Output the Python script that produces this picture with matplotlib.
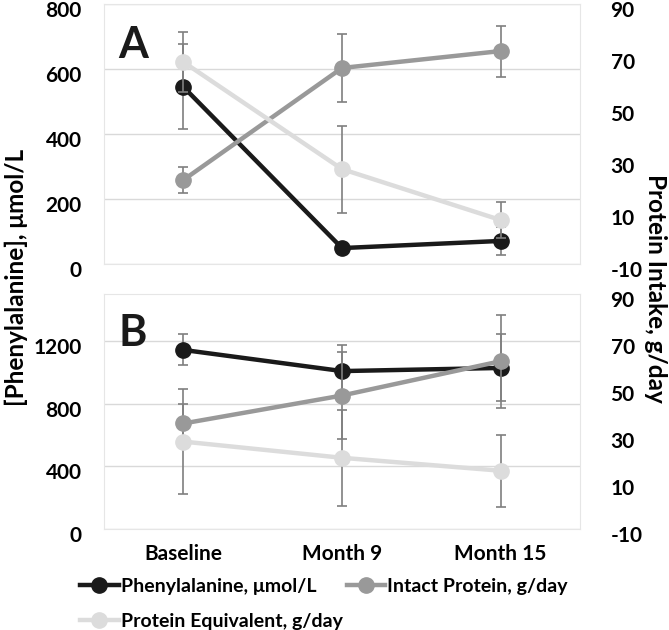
import matplotlib
matplotlib.use("Agg")
import matplotlib.pyplot as plt
from matplotlib.lines import Line2D
from matplotlib.transforms import ScaledTranslation
from matplotlib.ticker import FuncFormatter

plt.rcParams['font.family'] = ['Lato', 'DejaVu Sans']
plt.rcParams['font.weight'] = 'bold'
plt.rcParams['axes.unicode_minus'] = False

categories = ["Baseline", "Month 9", "Month 15"]

# Panel A
phe_a = [545, 49, 71]
phe_a_err = [131, 15, 43]
intact_a = [22.3, 65.4, 71.9]
intact_a_err = [5.0, 13.0, 9.8]
equiv_a = [67.7, 26.5, 6.9]
equiv_a_err = [11.5, 16.7, 6.9]

# Panel B
phe_b = [1143, 1008, 1028]
phe_b_err = [99, 166, 214]
intact_b = [34.9, 46.8, 61.4]
intact_b_err = [8.5, 18.4, 19.7]
equiv_b = [27.2, 20.3, 14.8]
equiv_b_err = [22.2, 20.5, 15.4]

left_ticks_a = [0, 200, 400, 600, 800]
left_ticks_b = [0, 400, 800, 1200]
right_ticks = [-10, 10, 30, 50, 70, 90]

c_phe = "#1a1a1a"
c_int = "#999999"
c_eq = "#dcdcdc"
c_err = "#7f7f7f"
c_grid = "#d9d9d9"

W, H = 669, 630
fig = plt.figure(figsize=(W / 100, H / 100), dpi=100)
shift = ScaledTranslation(0, -5 / 100, fig.dpi_scale_trans)

def rect(l, t, r, b):
    return [l / W, 1 - b / H, (r - l) / W, (b - t) / H]

FS = 15
MS = 11
fmt = FuncFormatter(lambda v, p: "%d" % v)

def panel(r, phe, phe_err, intact, intact_err, eq, eq_err, lticks, lmax, letter, show_x):
    ax = fig.add_axes(r)
    x = list(range(len(categories)))
    ax.set_xlim(-0.5, 2.5)
    ax.set_ylim(0, lmax)
    ax.set_yticks(lticks)
    ax.yaxis.set_major_formatter(fmt)
    ax.grid(axis='y', color=c_grid, lw=1.0)
    ax.set_axisbelow(True)
    for s in ax.spines.values():
        s.set_color("#e6e6e6")
        s.set_linewidth(0.8)
    ax.tick_params(length=0, labelsize=FS, pad=16)
    ax.errorbar(x, phe, yerr=phe_err, fmt='none', ecolor=c_err, elinewidth=1.2, capsize=3.5, capthick=1.2, zorder=2)
    ax.plot(x, phe, color=c_phe, lw=3.2, marker='o', ms=MS, zorder=3)
    ax.set_xticks(x)
    if show_x:
        ax.set_xticklabels(categories)
        ax.tick_params(axis='x', pad=11)
    else:
        ax.set_xticklabels([])
    ax2 = ax.twinx()
    ax2.set_ylim(-10, 90)
    ax2.set_yticks(right_ticks)
    ax2.yaxis.set_major_formatter(fmt)
    for s in ax2.spines.values():
        s.set_visible(False)
    ax2.tick_params(length=0, labelsize=FS, pad=22)
    ax2.errorbar(x, intact, yerr=intact_err, fmt='none', ecolor=c_err, elinewidth=1.2, capsize=3.5, capthick=1.2, zorder=2)
    ax2.errorbar(x, eq, yerr=eq_err, fmt='none', ecolor=c_err, elinewidth=1.2, capsize=3.5, capthick=1.2, zorder=2)
    ax2.plot(x, intact, color=c_int, lw=3.2, marker='o', ms=MS, zorder=3)
    ax2.plot(x, eq, color=c_eq, lw=3.2, marker='o', ms=MS, zorder=3)
    ax.text(0.03, 0.92, letter, transform=ax.transAxes, fontsize=31, fontweight='bold',
            va='top', ha='left', color=c_phe)
    for a in (ax, ax2):
        for lab in a.get_yticklabels():
            lab.set_transform(lab.get_transform() + shift)
    return ax, ax2

panel(rect(104, 4, 580, 264), phe_a, phe_a_err, intact_a, intact_a_err, equiv_a, equiv_a_err,
      left_ticks_a, 800, "A", False)
panel(rect(104, 294, 580, 529), phe_b, phe_b_err, intact_b, intact_b_err, equiv_b, equiv_b_err,
      left_ticks_b, 1500, "B", True)

fig.text(16 / W, 1 - 277 / H, "[Phenylalanine], \u03bcmol/L", rotation=90, ha='center', va='center',
         fontsize=17.5, fontweight='bold')
fig.text(655 / W, 1 - 288 / H, "Protein Intake, g/day", rotation=270, ha='center', va='center',
         fontsize=17.5, fontweight='bold')

handles = [
    Line2D([], [], color=c_phe, lw=3.2, marker='o', ms=MS),
    Line2D([], [], color=c_eq, lw=3.2, marker='o', ms=MS),
    Line2D([], [], color=c_int, lw=3.2, marker='o', ms=MS),
]
labels = ["Phenylalanine, \u03bcmol/L", "Protein Equivalent, g/day", "Intact Protein, g/day"]
fig.legend(handles, labels, ncol=2, loc='upper left', bbox_to_anchor=(80 / W, 1 - 578 / H),
           frameon=False, fontsize=14, handlelength=2.0, handletextpad=0.1, columnspacing=0.2,
           labelspacing=0.9, borderpad=0, borderaxespad=0)

fig.savefig("out.png", dpi=100)
